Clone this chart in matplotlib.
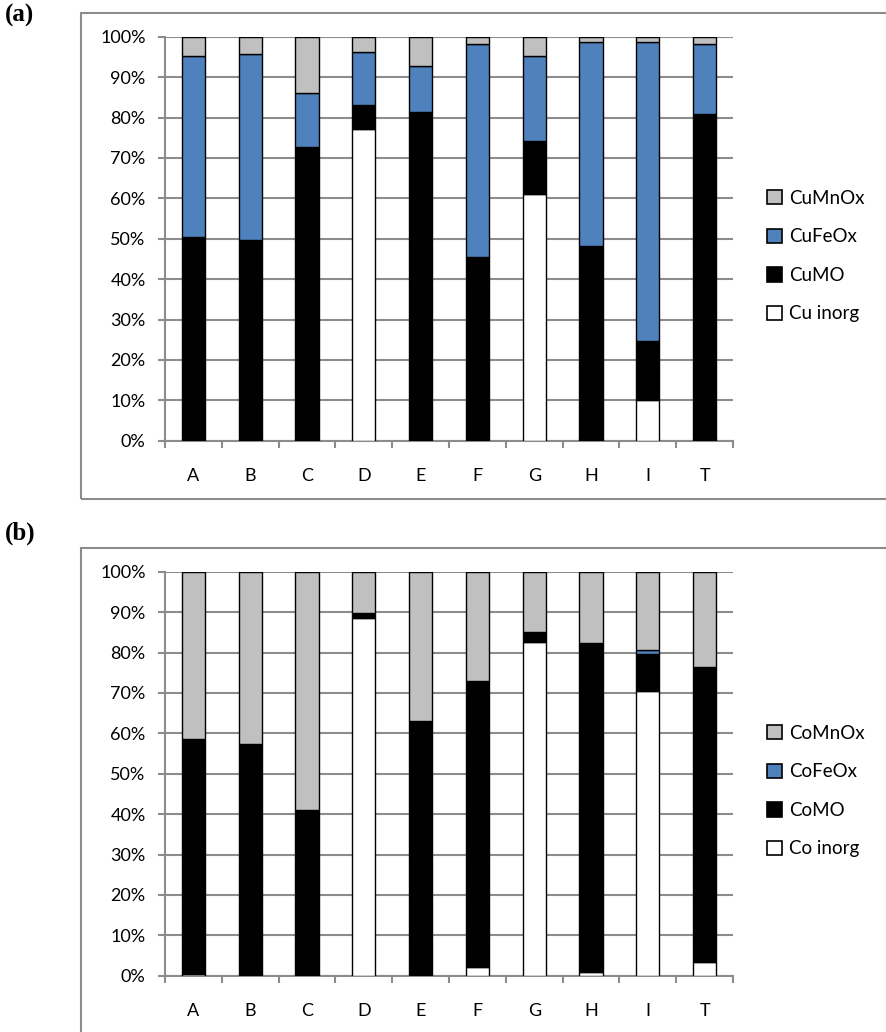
import matplotlib as mpl
import matplotlib.pyplot as plt
import numpy as np
from matplotlib.patches import Rectangle, Patch

sites = ['A', 'B', 'C', 'D', 'E', 'F', 'G', 'H', 'I', 'T']

# panel (a): copper fractions (%)
cu_inorg = [0.0, 0.0, 0.0, 77.1, 0.0, 0.0, 61.0, 0.0, 10.1, 0.0]
cu_mo = [50.5, 49.7, 72.6, 5.9, 81.3, 45.5, 13.3, 48.3, 14.6, 80.9]
cu_feox = [44.8, 46.1, 13.5, 13.3, 11.5, 52.7, 21.0, 50.4, 74.0, 17.3]
cu_mnox = [4.7, 4.2, 13.9, 3.7, 7.2, 1.8, 4.7, 1.3, 1.3, 1.8]

# panel (b): cobalt fractions (%)
co_inorg = [0.3, 0.0, 0.0, 88.6, 0.0, 2.1, 82.5, 0.9, 70.5, 3.4]
co_mo = [58.3, 57.3, 40.9, 1.1, 63.0, 70.9, 2.6, 81.4, 9.2, 73.1]
co_feox = [0.0, 0.0, 0.0, 0.0, 0.0, 0.0, 0.0, 0.0, 0.9, 0.0]
co_mnox = [41.4, 42.7, 59.1, 10.3, 37.0, 27.0, 14.9, 17.7, 19.4, 23.5]

colors = ['white', 'black', '#4F81BD', '#C0C0C0']
grid_col = '#8C8C8C'

W, H = 887, 1032


def fx(px):
    return px / W


def fy(py):
    return 1 - py / H


def panel(fig, top_px, series, labels):
    ax = fig.add_axes([fx(165), fy(top_px + 404), fx(568), 404 / H])
    x = np.arange(len(sites))
    bottom = np.zeros(len(sites))
    for vals, col, lab in zip(series, colors, labels):
        vals = np.array(vals)
        ax.bar(x, vals, 0.41, bottom=bottom, color=col, edgecolor='black',
               linewidth=1.0, label=lab, zorder=3)
        bottom += vals
    ax.set_xlim(-0.5, len(sites) - 0.5)
    ax.set_ylim(0, 100)
    ax.set_yticks(np.arange(0, 101, 10))
    ax.set_yticklabels(['%d%%' % v for v in range(0, 101, 10)])
    ax.set_xticks(x)
    ax.set_xticklabels(sites)
    ax.set_xticks(np.arange(-0.5, len(sites)), minor=True)
    ax.tick_params(axis='x', which='major', length=0, pad=20, labelsize=13)
    ax.tick_params(axis='x', which='minor', length=5, width=1.5,
                   color=grid_col, direction='out')
    ax.tick_params(axis='y', length=5, width=1.5, color=grid_col, pad=9,
                   labelsize=13)
    ax.yaxis.grid(True, color=grid_col, linewidth=1.5, zorder=0)
    ax.set_axisbelow(True)
    for s in ['top', 'right']:
        ax.spines[s].set_visible(False)
    for s in ['left', 'bottom']:
        ax.spines[s].set_color(grid_col)
        ax.spines[s].set_linewidth(1.5)
    handles = [Patch(facecolor=c, edgecolor='black', linewidth=1.2)
               for c in colors]
    ax.legend(handles[::-1], labels[::-1], loc='center left',
              bbox_to_anchor=(1.06, 0.457), frameon=False, fontsize=13.5,
              handlelength=0.8, handleheight=0.8, handletextpad=0.35,
              labelspacing=1.15, borderpad=0, borderaxespad=0)
    return ax


def main():
    mpl.rcParams['font.family'] = ['Lato', 'DejaVu Sans']
    fig = plt.figure(figsize=(W / 100, H / 100), dpi=100)

    # frames round each panel (cut off at the right/bottom of the image)
    fig.patches.append(Rectangle((fx(81), fy(499)), 1.2, (499 - 13) / H,
                                 transform=fig.transFigure, fill=False,
                                 edgecolor=grid_col, linewidth=1.5))
    fig.patches.append(Rectangle((fx(81), fy(1100)), 1.2, (1100 - 548) / H,
                                 transform=fig.transFigure, fill=False,
                                 edgecolor=grid_col, linewidth=1.5))

    panel(fig, 36.7, [cu_inorg, cu_mo, cu_feox, cu_mnox],
          ['Cu inorg', 'CuMO', 'CuFeOx', 'CuMnOx'])
    panel(fig, 571.7, [co_inorg, co_mo, co_feox, co_mnox],
          ['Co inorg', 'CoMO', 'CoFeOx', 'CoMnOx'])

    fig.text(fx(5), fy(4), '(a)', ha='left', va='top', fontsize=18,
             fontweight='bold', family='Liberation Serif')
    fig.text(fx(5), fy(522), '(b)', ha='left', va='top', fontsize=18,
             fontweight='bold', family='Liberation Serif')

    fig.savefig('out.png', dpi=100)


if __name__ == '__main__':
    main()
